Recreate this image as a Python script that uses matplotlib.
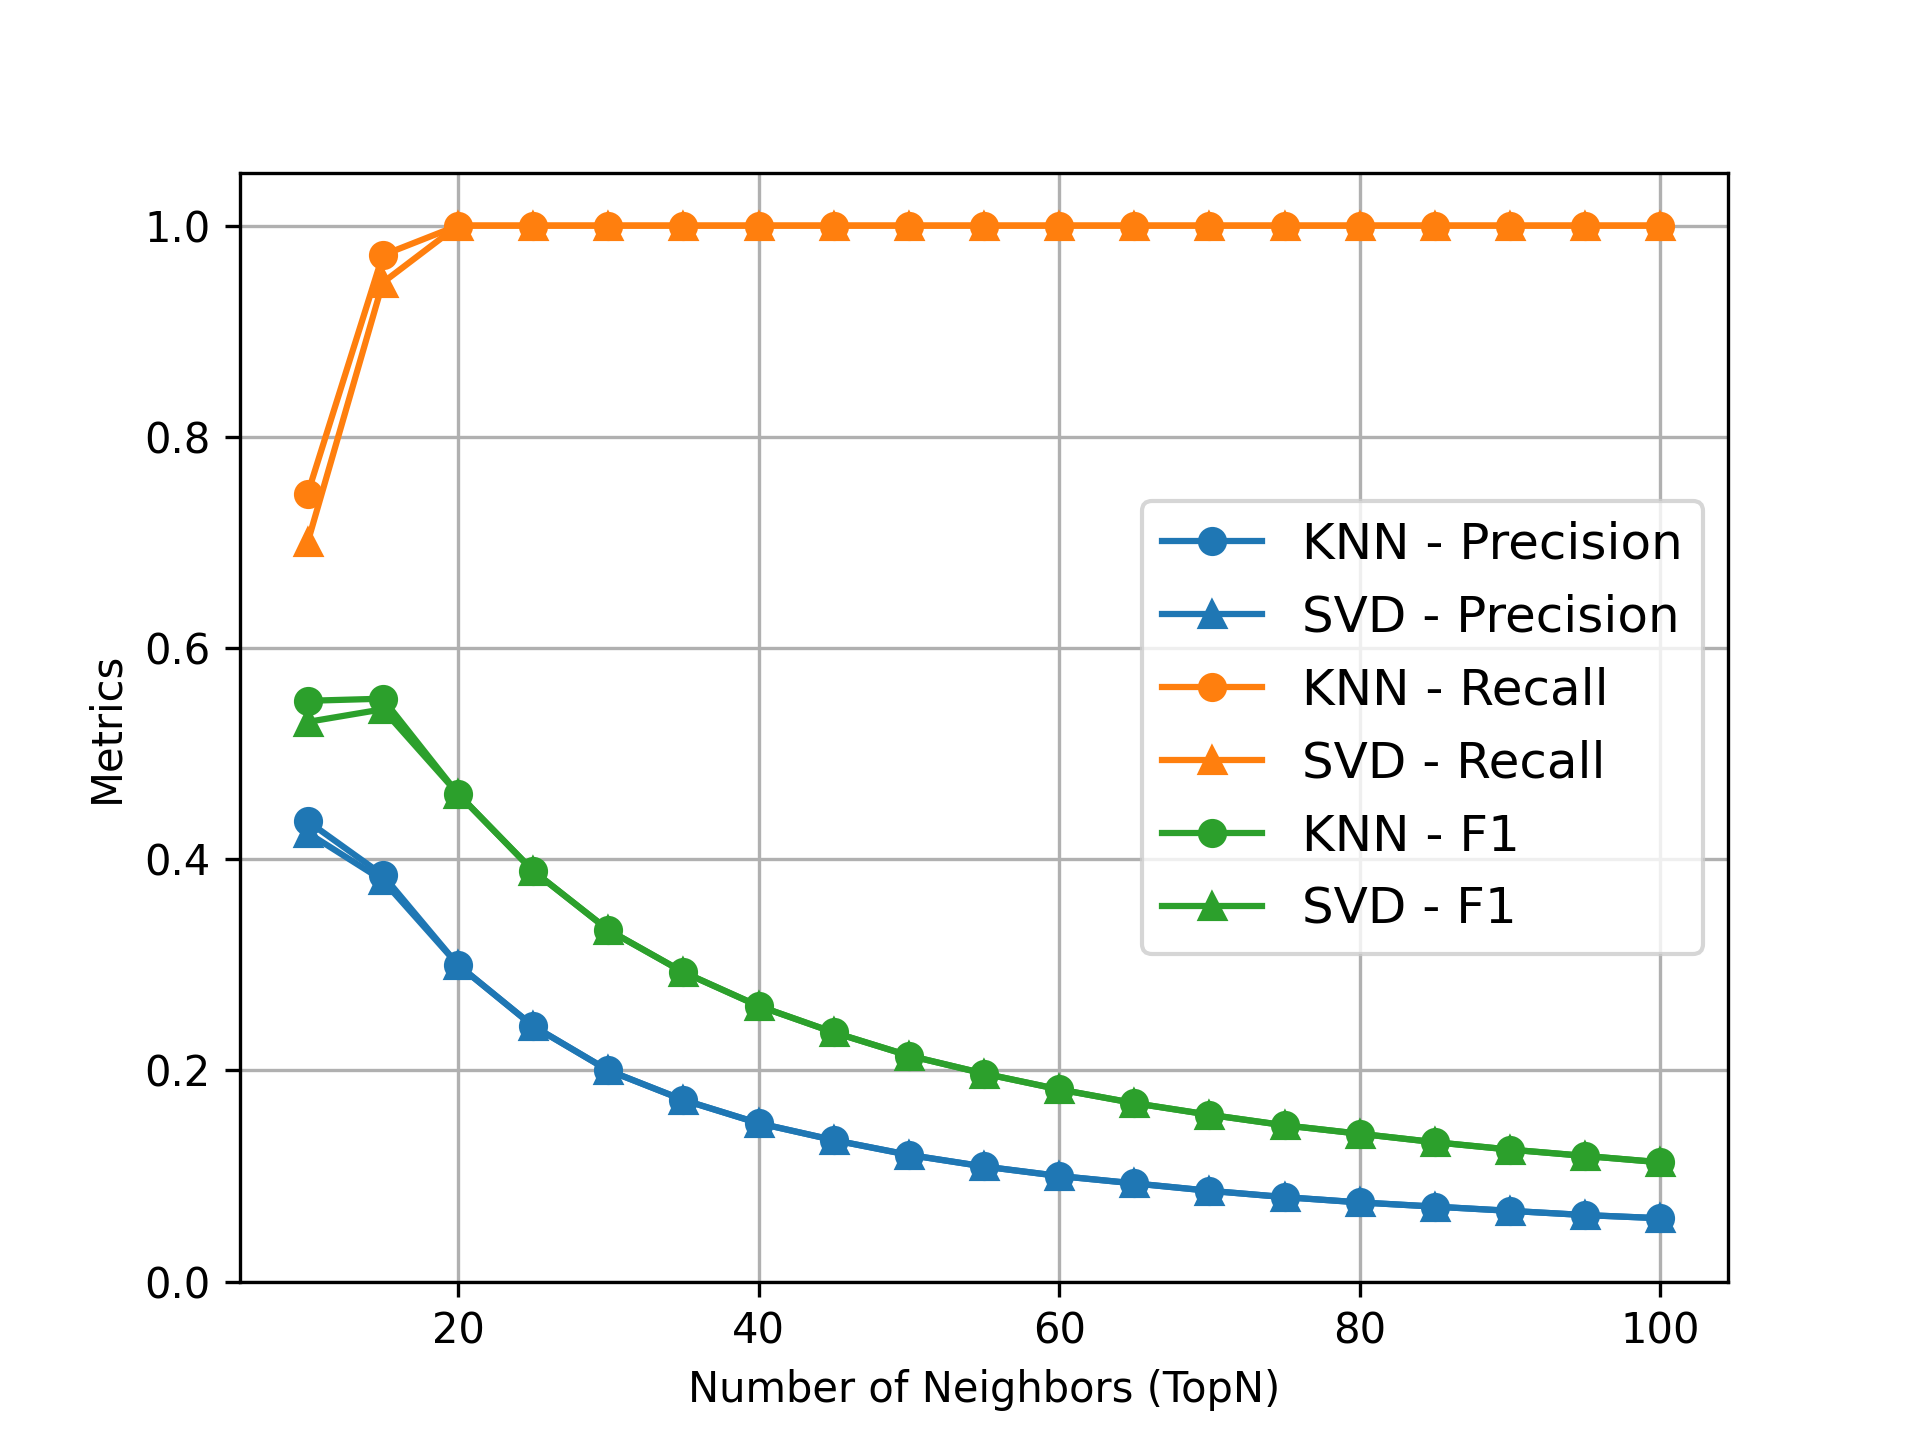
import matplotlib
matplotlib.use("Agg")
import matplotlib.pyplot as plt

topn = [10, 15, 20, 25, 30, 35, 40, 45, 50, 55, 60, 65, 70, 75, 80, 85, 90, 95, 100]

knn_precision = [0.436, 0.385, 0.300, 0.242, 0.200, 0.172, 0.150, 0.134, 0.120, 0.109,
                 0.100, 0.093, 0.086, 0.080, 0.075, 0.071, 0.067, 0.063, 0.060]
svd_precision = [0.425, 0.380, 0.300, 0.242, 0.200, 0.172, 0.150, 0.134, 0.120, 0.109,
                 0.100, 0.093, 0.086, 0.080, 0.075, 0.071, 0.067, 0.063, 0.060]
knn_recall = [0.746, 0.972] + [1.0] * 17
svd_recall = [0.700, 0.946] + [1.0] * 17
knn_f1 = [0.550, 0.552, 0.462, 0.389, 0.333, 0.293, 0.261, 0.236, 0.214, 0.197,
          0.182, 0.169, 0.158, 0.148, 0.140, 0.132, 0.125, 0.119, 0.113]
svd_f1 = [0.530, 0.542, 0.462, 0.389, 0.333, 0.293, 0.261, 0.236, 0.214, 0.197,
          0.182, 0.169, 0.158, 0.148, 0.140, 0.132, 0.125, 0.119, 0.113]

fig, ax = plt.subplots(figsize=(6.4, 4.8))
ax.plot(topn, knn_precision, marker="o", color="tab:blue", label="KNN - Precision")
ax.plot(topn, svd_precision, marker="^", color="tab:blue", label="SVD - Precision")
ax.plot(topn, knn_recall, marker="o", color="tab:orange", label="KNN - Recall")
ax.plot(topn, svd_recall, marker="^", color="tab:orange", label="SVD - Recall")
ax.plot(topn, knn_f1, marker="o", color="tab:green", label="KNN - F1")
ax.plot(topn, svd_f1, marker="^", color="tab:green", label="SVD - F1")
ax.set_xlabel("Number of Neighbors (TopN)")
ax.set_ylabel("Metrics")
ax.set_ylim(0, 1.05)
ax.grid(True)
ax.legend(loc="center right", fontsize=12)
fig.savefig("out.png", dpi=300)
